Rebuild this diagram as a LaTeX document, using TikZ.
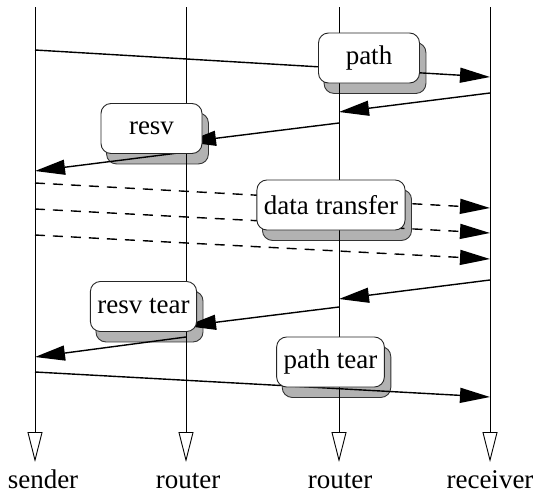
\documentclass[tikz,border=0pt]{standalone}
\usepackage{fontspec}
\setmainfont{Liberation Serif}
\usetikzlibrary{arrows.meta}
\pgfdeclarelayer{shadows}
\pgfdeclarelayer{boxes}
\pgfsetlayers{shadows,main,boxes}
\tikzset{
  lifeline/.style={line width=0.9pt, -{Triangle[open,length=30pt,width=15pt]}},
  msg/.style={line width=1.4pt, -{Triangle[length=30pt,width=15pt]}},
  datamsg/.style={msg, dash pattern=on 10pt off 8pt},
  partylabel/.style={font=\fontsize{27}{32}\selectfont, anchor=base},
  msgbox/.style={draw=black!85, line width=0.9pt, fill=white, rounded corners=10pt,
    minimum width=101pt, minimum height=50pt, inner xsep=7pt,
    font=\fontsize{27}{32}\selectfont},
  boxshadow/.style={draw=black!80, line width=0.9pt, fill=black!30, rounded corners=10pt},
}
\newcommand{\shadowof}[1]{%
  \path[boxshadow] ([shift={(6,10)}]#1.south west) rectangle ([shift={(6,10)}]#1.north east);}
\begin{document}
\begin{tikzpicture}[x=1pt,y=-1pt]
\useasboundingbox (0,0) rectangle (539,493);

% lifelines
\coordinate (sT) at (35,7);   \coordinate (sB) at (35,462);
\coordinate (aT) at (186,7);  \coordinate (aB) at (186,462);
\coordinate (bT) at (339,7);  \coordinate (bB) at (339,462);
\coordinate (rT) at (490,7);  \coordinate (rB) at (490,462);
\draw[lifeline] (sT) -- (sB);
\draw[lifeline] (aT) -- (aB);
\draw[lifeline] (bT) -- (bB);
\draw[lifeline] (rT) -- (rB);

\node[partylabel] (sender)   at (43,488)  {sender};
\node[partylabel] (router1)  at (188,488) {router};
\node[partylabel] (router2)  at (340,488) {router};
\node[partylabel] (receiver) at (490,488) {receiver};

% message boxes
\begin{pgfonlayer}{boxes}
\node[msgbox] (path)  at (369,58)      {path};
\node[msgbox] (resv)  at (151.5,128.5) {resv};
\node[msgbox] (data)  at (331,205)     {data transfer};
\node[msgbox] (rtear) at (143.5,306.5) {resv tear};
\node[msgbox] (ptear) at (330.5,362)   {path tear};
\end{pgfonlayer}
\begin{pgfonlayer}{shadows}
\shadowof{path}\shadowof{resv}\shadowof{data}\shadowof{rtear}\shadowof{ptear}
\end{pgfonlayer}

% path: sender -> receiver
\coordinate (p0) at (35,50);  \coordinate (p1) at (490,77);
\draw[msg] (p0) -- (p1);

% resv: receiver -> router -> router -> sender
\coordinate (v0) at (490,93);  \coordinate (v1) at (339,112);
\coordinate (v2) at (339,123); \coordinate (v3) at (186,142);
\coordinate (v4) at (186,152); \coordinate (v5) at (35,171);
\draw[msg] (v0) -- (v1);
\draw[msg] (v2) -- (v3);
\draw[msg] (v4) -- (v5);

% data transfer: sender -> receiver
\coordinate (d0) at (35,183); \coordinate (d1) at (490,208);
\coordinate (e0) at (35,209); \coordinate (e1) at (490,233);
\coordinate (f0) at (35,235); \coordinate (f1) at (490,259);
\draw[datamsg] (d0) -- (d1);
\draw[datamsg] (e0) -- (e1);
\draw[datamsg] (f0) -- (f1);

% resv tear: receiver -> router -> router -> sender
\coordinate (t0) at (490,280); \coordinate (t1) at (339,299);
\coordinate (t2) at (339,307); \coordinate (t3) at (186,326);
\coordinate (t4) at (186,337); \coordinate (t5) at (35,357);
\draw[msg] (t0) -- (t1);
\draw[msg] (t2) -- (t3);
\draw[msg] (t4) -- (t5);

% path tear: sender -> receiver
\coordinate (q0) at (35,372); \coordinate (q1) at (490,397);
\draw[msg] (q0) -- (q1);
\end{tikzpicture}
\end{document}
